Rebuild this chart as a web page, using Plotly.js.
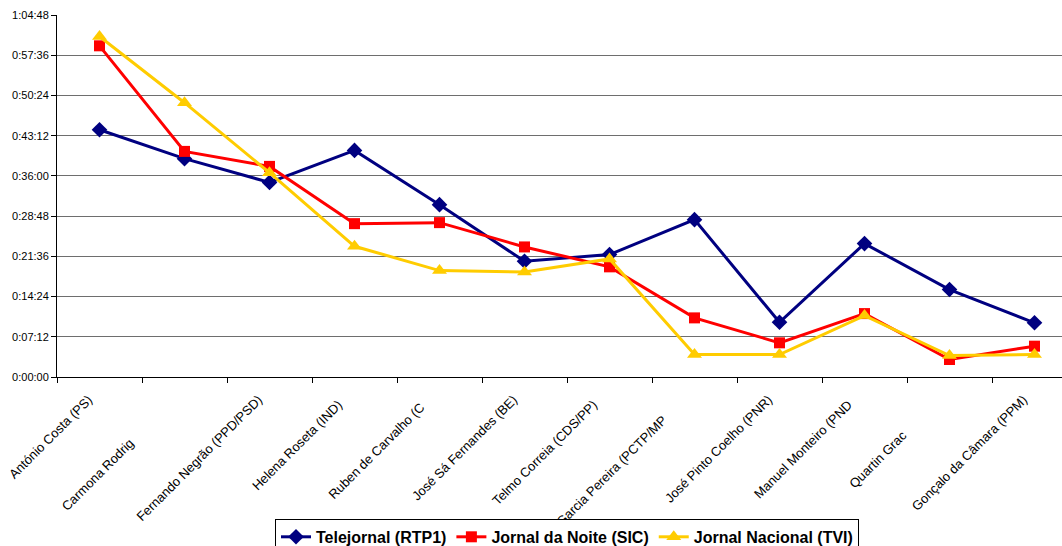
<!DOCTYPE html>
<html>
<head>
<meta charset="utf-8">
<script src="https://cdn.plot.ly/plotly-3.0.1.min.js"></script>
<style>
html,body{margin:0;padding:0;overflow:hidden;background:#fff;width:1062px;height:546px;}
#chart{width:1080px;height:546px;}
</style>
</head>
<body>
<div id="chart"></div>
<script>
const categories = [
  "António Costa (PS)",
  "Carmona Rodrig",
  "Fernando Negrão (PPD/PSD)",
  "Helena Roseta (IND)",
  "Ruben de Carvalho (C",
  "José Sá Fernandes (BE)",
  "Telmo Correia (CDS/PP)",
  "Garcia Pereira (PCTP/MP",
  "José Pinto Coelho (PNR)",
  "Manuel Monteiro (PND",
  "Quartin Grac",
  "Gonçalo da Câmara (PPM)"
];
const telejornalRTP1 = ["0:44:16","0:39:05","0:34:50","0:40:34","0:30:51","0:20:43","0:21:55","0:28:10","0:09:48","0:23:53","0:15:39","0:09:42"];
const jornalNoiteSIC = ["0:59:17","0:40:23","0:37:42","0:27:27","0:27:38","0:23:17","0:19:43","0:10:35","0:06:07","0:11:21","0:03:08","0:05:31"];
const jornalNacionalTVI = ["1:00:57","0:49:06","0:36:34","0:23:24","0:19:03","0:18:49","0:21:08","0:04:01","0:04:01","0:11:00","0:03:51","0:04:01"];
const yTickLabels = ["0:00:00","0:07:12","0:14:24","0:21:36","0:28:48","0:36:00","0:43:12","0:50:24","0:57:36","1:04:48"];

function toSec(t){const p=t.split(":").map(Number);return p[0]*3600+p[1]*60+p[2];}
const yTickVals = yTickLabels.map(toSec);

// visual offset of some clipped labels (trailing non-breaking spaces push them down-left)
const labelPad = {"Carmona Rodrig":17, "Quartin Grac":14, "Garcia Pereira (PCTP/MP":8, "Ruben de Carvalho (C":3,
  "Helena Roseta (IND)":2, "Telmo Correia (CDS/PP)":2, "Manuel Monteiro (PND":2};
const xTickText = categories.map(c => c + "\u00A0".repeat(labelPad[c] || 0));

const font = "Liberation Sans, Arial, sans-serif";
const traces = [
  {name:"Telejornal (RTP1)", y:telejornalRTP1, color:"#000080", symbol:"diamond", size:12},
  {name:"Jornal da Noite (SIC)", y:jornalNoiteSIC, color:"#FF0000", symbol:"square", size:11},
  {name:"Jornal Nacional (TVI)", y:jornalNacionalTVI, color:"#FFCC00", symbol:"triangle-up", size:13}
].map(s => ({
  type:"scatter", mode:"lines+markers", name:s.name,
  x:categories, y:s.y.map(toSec), text:s.y, hoverinfo:"x+text+name",
  line:{color:s.color,width:3},
  marker:{color:s.color,symbol:s.symbol,size:s.size}
}));

const layout = {
  width:1080, height:546,
  margin:{l:57,r:3,t:15,b:169,autoexpand:false},
  paper_bgcolor:"#fff", plot_bgcolor:"#fff",
  font:{family:font,size:11,color:"#000"},
  showlegend:true,
  xaxis:{
    type:"category", tickangle:-45, tickson:"boundaries",
    tickmode:"array", tickvals:categories, ticktext:xTickText,
    ticks:"outside", ticklen:5, tickcolor:"#000",
    ticklabelshift:-11, ticklabelstandoff:9,
    showline:true, linecolor:"#000", linewidth:1,
    showgrid:false, zeroline:false, automargin:false,
    tickfont:{family:font,size:13,color:"#000"},
    range:[-0.5,11.5]
  },
  yaxis:{
    range:[0,3888], tickvals:yTickVals, ticktext:yTickLabels,
    ticks:"outside", ticklen:5, tickcolor:"#000",
    showline:true, linecolor:"#000", linewidth:1,
    showgrid:true, gridcolor:"#6e6e6e", gridwidth:1,
    zeroline:false, automargin:false,
    tickfont:{family:font,size:11,color:"#000"}
  },
  legend:{
    orientation:"h", x:0.5, xanchor:"center", y:-0.392, yanchor:"top",
    bordercolor:"#000", borderwidth:1, bgcolor:"#fff",
    font:{family:font,size:16,color:"#000",weight:"bold"},
    itemwidth:30, tracegroupgap:0
  }
};
Plotly.newPlot("chart", traces, layout, {displayModeBar:false, staticPlot:true});
</script>
</body>
</html>
